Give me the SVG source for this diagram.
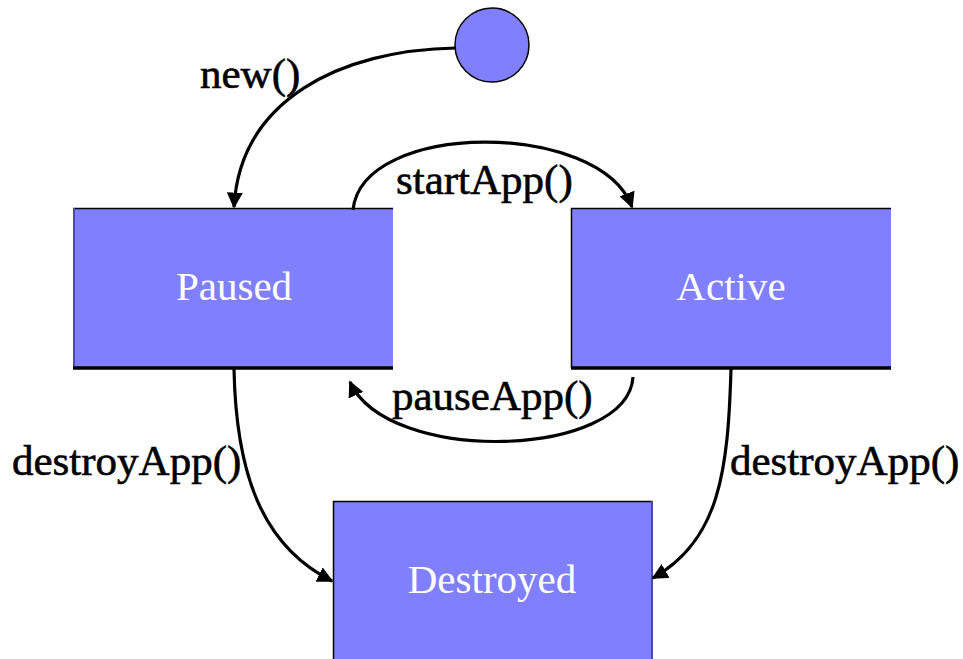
<svg xmlns="http://www.w3.org/2000/svg" width="963" height="659" viewBox="0 0 963 659">
  <style>
    .state { fill: #8080ff; }
    .edge-top { stroke: #000; stroke-width: 1.5; }
    .edge-base { stroke: #000; stroke-width: 3.5; }
    .edge-side { stroke: #4a4aa8; stroke-width: 2; }
    .name { font-family: "Liberation Serif", "Times New Roman", serif; font-size: 41px; fill: #fff; text-anchor: middle; }
    .label { font-family: "Liberation Serif", "Times New Roman", serif; font-size: 43px; fill: #000; stroke: #000; stroke-width: 0.6; }
    .conn { fill: none; stroke: #000; stroke-width: 3.2; marker-end: url(#head); }
  </style>
  <defs>
    <marker id="head" viewBox="0 0 10 10" refX="9" refY="5" markerWidth="5" markerHeight="5" markerUnits="strokeWidth" orient="auto">
      <path d="M0,0 L10,5 L0,10 z" fill="#000"/>
    </marker>
  </defs>
  <rect width="963" height="659" fill="#fff"/>

  <g id="initial">
    <circle cx="492" cy="45" r="37" fill="#8080ff" stroke="#000" stroke-width="1.5"/>
  </g>

  <g id="paused">
    <rect class="state" x="73" y="208" width="320" height="160"/>
    <line class="edge-top" x1="73" y1="208.5" x2="393" y2="208.5"/>
    <line class="edge-side" x1="74" y1="208" x2="74" y2="368"/>
    <line class="edge-base" x1="73" y1="368" x2="393" y2="368"/>
    <text class="name" x="234" y="300">Paused</text>
  </g>

  <g id="active">
    <rect class="state" x="571" y="208" width="320" height="160"/>
    <line class="edge-top" x1="571" y1="208.5" x2="891" y2="208.5"/>
    <line class="edge-top" x1="571.5" y1="208" x2="571.5" y2="368"/>
    <line class="edge-base" x1="571" y1="368" x2="891" y2="368"/>
    <text class="name" x="731" y="300">Active</text>
  </g>

  <g id="destroyed">
    <rect class="state" x="333" y="501" width="320" height="158"/>
    <line class="edge-top" x1="333" y1="501.5" x2="653" y2="501.5"/>
    <line class="edge-top" x1="333.5" y1="501" x2="333.5" y2="659"/>
    <line class="edge-side" x1="652" y1="501" x2="652" y2="659"/>
    <text class="name" x="492" y="593">Destroyed</text>
  </g>

  <g id="connectors">
    <path class="conn" d="M456,48 C340,50 240,100 234,207"/>
    <path class="conn" d="M353,210 C362,120 600,120 632,207"/>
    <path class="conn" d="M633,377 C628,458 388,466 350,382"/>
    <path class="conn" d="M234,369 C236,470 260,545 332,581"/>
    <path class="conn" d="M731,369 C728,470 720,540 653,578"/>
  </g>

  <g id="labels">
    <text class="label" x="200" y="88">new()</text>
    <text class="label" x="396" y="194">startApp()</text>
    <text class="label" x="392" y="410">pauseApp()</text>
    <text class="label" x="12" y="475">destroyApp()</text>
    <text class="label" x="730" y="475">destroyApp()</text>
  </g>
</svg>
